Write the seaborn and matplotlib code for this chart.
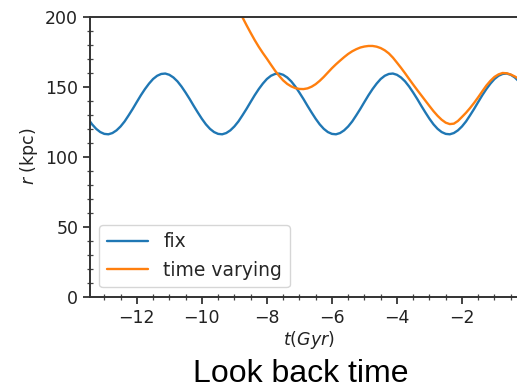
import matplotlib
matplotlib.use("Agg")
import matplotlib.pyplot as plt
import seaborn as sns
import pandas as pd
from matplotlib.ticker import MultipleLocator

# ---- data ----
t_fix = [-13.5, -13.375, -13.25, -13.125, -13.0, -12.875, -12.75, -12.625, -12.5, -12.375,
         -12.25, -12.125, -12.0, -11.875, -11.75, -11.625, -11.5, -11.375, -11.25, -11.125,
         -11.0, -10.875, -10.75, -10.625, -10.5, -10.375, -10.25, -10.125, -10.0, -9.875,
         -9.75, -9.625, -9.5, -9.375, -9.25, -9.125, -9.0, -8.875, -8.75, -8.625,
         -8.5, -8.375, -8.25, -8.125, -8.0, -7.875, -7.75, -7.625, -7.5, -7.375,
         -7.25, -7.125, -7.0, -6.875, -6.75, -6.625, -6.5, -6.375, -6.25, -6.125,
         -6.0, -5.875, -5.75, -5.625, -5.5, -5.375, -5.25, -5.125, -5.0, -4.875,
         -4.75, -4.625, -4.5, -4.375, -4.25, -4.125, -4.0, -3.875, -3.75, -3.625,
         -3.5, -3.375, -3.25, -3.125, -3.0, -2.875, -2.75, -2.625, -2.5, -2.375,
         -2.25, -2.125, -2.0, -1.875, -1.75, -1.625, -1.5, -1.375, -1.25, -1.125,
         -1.0, -0.875, -0.75, -0.625, -0.5, -0.375, -0.25, -0.125, 0.0]
r_fix = [127.1, 123.1, 119.9, 117.6, 116.3, 116.0, 116.9, 118.8, 121.6, 125.2,
         129.6, 134.2, 139.1, 143.9, 148.3, 152.2, 155.5, 157.8, 159.1, 159.4,
         158.5, 156.6, 153.8, 150.1, 145.8, 141.2, 136.3, 131.6,
         127.1, 123.1, 119.9, 117.6, 116.3, 116.0, 116.9, 118.8, 121.6, 125.2,
         129.6, 134.2, 139.1, 143.9, 148.3, 152.2, 155.5, 157.8, 159.1, 159.4,
         158.5, 156.6, 153.8, 150.1, 145.8, 141.2, 136.3, 131.6,
         127.1, 123.1, 119.9, 117.6, 116.3, 116.0, 116.9, 118.8, 121.6, 125.2,
         129.6, 134.2, 139.1, 143.9, 148.3, 152.2, 155.5, 157.8, 159.1, 159.4,
         158.5, 156.6, 153.8, 150.1, 145.8, 141.2, 136.3, 131.6,
         127.1, 123.1, 119.9, 117.6, 116.3, 116.0, 116.9, 118.8, 121.6, 125.2,
         129.6, 134.2, 139.1, 143.9, 148.3, 152.2, 155.5, 157.8, 159.1, 159.4,
         158.5, 156.6, 153.8, 150.1, 145.8]

t_var = [-9.0, -8.875, -8.75, -8.625, -8.5, -8.375, -8.25, -8.125, -8.0, -7.875,
         -7.75, -7.625, -7.5, -7.375, -7.25, -7.125, -7.0, -6.875, -6.75, -6.625,
         -6.5, -6.375, -6.25, -6.125, -6.0, -5.875, -5.75, -5.625, -5.5, -5.375,
         -5.25, -5.125, -5.0, -4.875, -4.75, -4.625, -4.5, -4.375, -4.25, -4.125,
         -4.0, -3.875, -3.75, -3.625, -3.5, -3.375, -3.25, -3.125, -3.0, -2.875,
         -2.75, -2.625, -2.5, -2.375, -2.25, -2.125, -2.0, -1.875, -1.75, -1.625,
         -1.5, -1.375, -1.25, -1.125, -1.0, -0.875, -0.75, -0.625, -0.5, -0.375,
         -0.25, -0.125, 0.0]
r_var = [209.0, 204.2, 199.5, 193.9, 188.5, 183.3, 178.5, 174.1, 170.0, 165.7,
         161.5, 157.8, 154.5, 152.0, 150.2, 149.0, 148.4, 148.3, 148.8, 150.0,
         151.8, 154.2, 157.0, 160.1, 163.2, 166.0, 168.6, 171.1, 173.4, 175.3,
         176.8, 178.0, 178.7, 179.1, 179.1, 178.6, 177.6, 176.0, 173.8, 170.8,
         167.2, 163.5, 159.6, 155.5, 151.5, 147.6, 143.8, 140.0, 136.2, 132.5,
         129.2, 126.4, 124.3, 123.3, 123.6, 125.5, 128.4, 131.4, 134.8, 138.5,
         142.5, 146.7, 150.8, 154.2, 157.0, 158.8, 159.8, 159.6, 158.7, 157.3,
         155.6, 153.4, 151.0]

series_names = ["fix", "time varying"]
x_ticks = [-12, -10, -8, -6, -4, -2]
y_ticks = [0, 50, 100, 150, 200]

df = pd.concat([
    pd.DataFrame({"t": t_fix, "r": r_fix, "orbit": series_names[0]}),
    pd.DataFrame({"t": t_var, "r": r_var, "orbit": series_names[1]}),
], ignore_index=True)

sns.set_style("ticks")
plt.rcParams["font.family"] = ["DejaVu Sans"]

fig = plt.figure(figsize=(5.17, 3.90), dpi=100)
ax = fig.add_axes([90 / 517, 93.3 / 390, 437 / 517, 280 / 390])

sns.lineplot(data=df, x="t", y="r", hue="orbit", hue_order=series_names,
             palette=["#1f77b4", "#ff7f0e"], linewidth=1.7, ax=ax,
             sort=False, estimator=None)

ax.set_xlim(-13.44, 0)
ax.set_ylim(0, 200)
ax.set_xticks(x_ticks)
ax.set_yticks(y_ticks)
ax.xaxis.set_minor_locator(MultipleLocator(0.5))
ax.yaxis.set_minor_locator(MultipleLocator(10))
ax.tick_params(which="major", direction="out", length=5, width=1.2,
               labelsize=12.5, colors="#222222")
ax.tick_params(which="minor", direction="inout", length=4, width=0.9,
               colors="#444444")
for s in ax.spines.values():
    s.set_visible(True)
    s.set_linewidth(1.4)
    s.set_color("#333333")

ax.set_xlabel("$t(Gyr)$", fontsize=12.5, labelpad=2, color="#222222")
ax.set_ylabel("$r$ (kpc)", fontsize=12.5, color="#222222")

leg = ax.legend(loc="lower left", fontsize=13.5, handlelength=2.2,
                frameon=True, fancybox=True)
leg.get_frame().set_edgecolor("#cccccc")
leg.set_title(None)

fig.text(301 / 517, 1 / 390, "Look back time", ha="center", va="bottom",
         fontsize=23, family=["Liberation Sans", "DejaVu Sans"], color="black")

fig.savefig("out.png", dpi=100)
